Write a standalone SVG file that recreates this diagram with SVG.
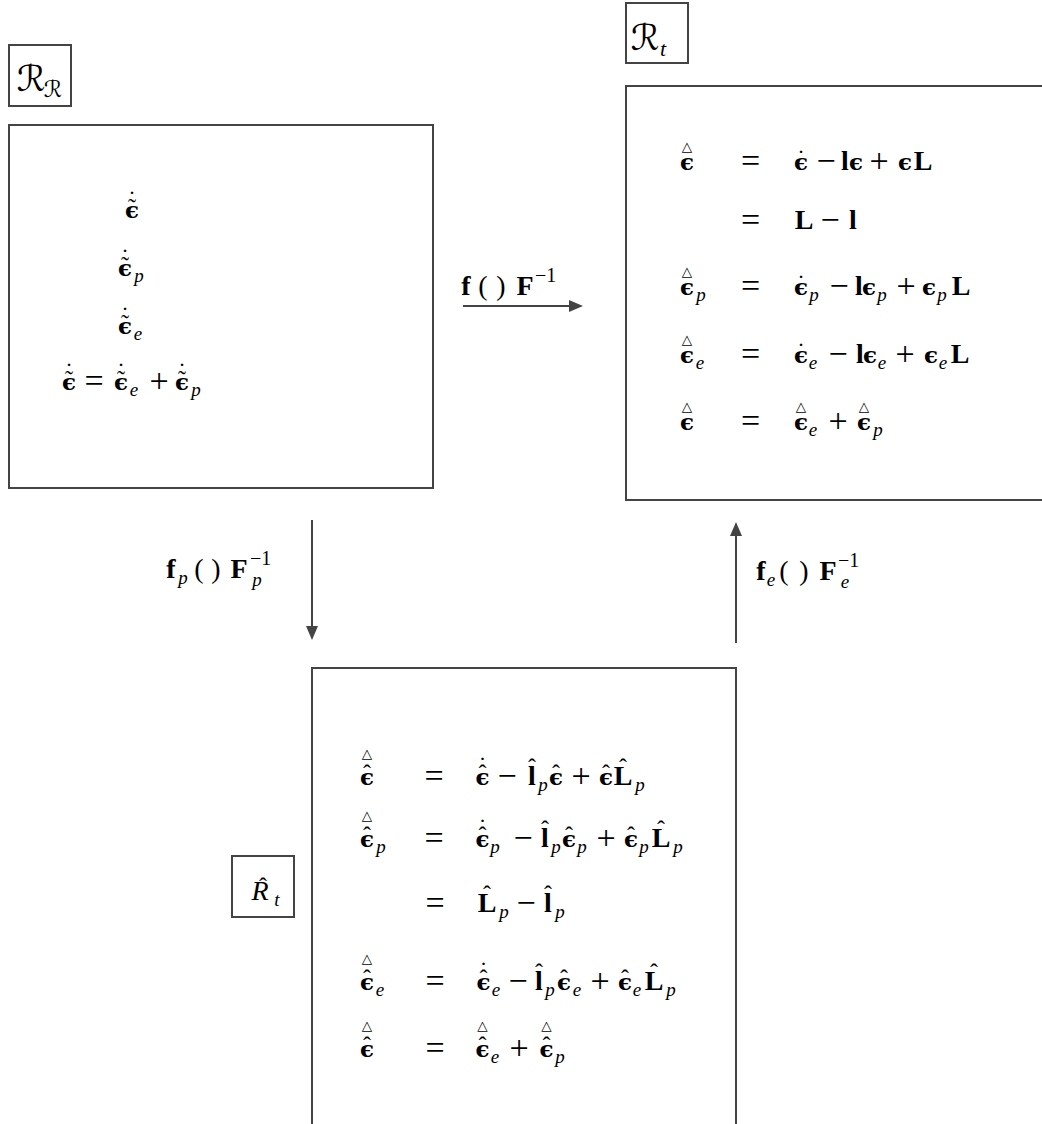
<svg xmlns="http://www.w3.org/2000/svg" width="1042" height="1124" viewBox="0 0 1042 1124">
<defs>
<style>
.box{fill:none;stroke:#444;stroke-width:2}
.con{stroke:#444;stroke-width:2;fill:none}
.t{font-family:"Liberation Serif",serif;font-size:28px;text-anchor:middle;fill:#000}
.b{font-weight:bold}
.op{font-size:34px}
.ep{font-family:"DejaVu Serif",serif;font-weight:bold;font-size:23px}
.sub{font-style:italic;font-size:19px}
.sup{font-size:20px}
.ac{font-size:24px}
.tri{font-family:"DejaVu Sans",sans-serif;font-size:13.5px}
.cal{font-family:"DejaVu Sans","Noto Sans",sans-serif;font-style:italic;font-size:36px;text-anchor:middle;fill:#000}
.cals{font-size:23px}
</style>
<marker id="ah" markerUnits="userSpaceOnUse" markerWidth="14" markerHeight="12" refX="6" refY="6" orient="auto">
<path d="M0,0 L14,6 L0,12 z" fill="#444"/>
</marker>
</defs>
<rect width="1042" height="1124" fill="#fff"/>

<g id="label-RR">
<rect class="box" x="9" y="45" width="62" height="61"/>
<text class="cal"><tspan x="31" y="91">ℛ</tspan><tspan class="cals" x="53" y="97">ℛ</tspan></text>
</g>

<g id="node-left">
<rect class="box" x="9" y="125" width="424" height="363"/>
<text class="t"><tspan class="ep" x="132" y="218">ϵ</tspan><tspan class="ac" x="132" y="215.4">˜</tspan><tspan class="ac" x="132" y="207">˙</tspan></text>
<text class="t"><tspan class="ep" x="125" y="276">ϵ</tspan><tspan class="ac" x="125" y="273.4">˜</tspan><tspan class="ac" x="125" y="265">˙</tspan><tspan class="sub" x="139" y="282">p</tspan></text>
<text class="t"><tspan class="ep" x="125" y="334">ϵ</tspan><tspan class="ac" x="125" y="331.4">˜</tspan><tspan class="ac" x="125" y="323">˙</tspan><tspan class="sub" x="138" y="340">e</tspan></text>
<text class="t"><tspan class="ep" x="69" y="390">ϵ</tspan><tspan class="ac" x="69" y="387.4">˜</tspan><tspan class="ac" x="69" y="379">˙</tspan><tspan class="op" x="94" y="392">=</tspan><tspan class="ep" x="121" y="390">ϵ</tspan><tspan class="ac" x="121" y="387.4">˜</tspan><tspan class="ac" x="121" y="379">˙</tspan><tspan class="sub" x="134" y="396">e</tspan><tspan class="op" x="159" y="392">+</tspan><tspan class="ep" x="182" y="390">ϵ</tspan><tspan class="ac" x="182" y="387.4">˜</tspan><tspan class="ac" x="182" y="379">˙</tspan><tspan class="sub" x="196" y="396">p</tspan></text>
</g>

<g id="label-Rt">
<rect class="box" x="626" y="3" width="62" height="60"/>
<text class="cal"><tspan x="645" y="50">ℛ</tspan><tspan style="font-family:'Liberation Serif',serif;font-size:22px" x="663" y="56">t</tspan></text>
</g>

<g id="node-right">
<rect class="box" x="626" y="86" width="430" height="414"/>
<text class="t"><tspan class="ep" x="687" y="170">ϵ</tspan><tspan class="tri" x="687" y="151">△</tspan><tspan class="op" x="750.5" y="172">=</tspan><tspan class="ep" x="801" y="170">ϵ</tspan><tspan class="ac" x="801" y="166">˙</tspan><tspan class="op" x="826" y="172">−</tspan><tspan class="b" x="845" y="170">l</tspan><tspan class="ep" x="856" y="170">ϵ</tspan><tspan class="op" x="879" y="172">+</tspan><tspan class="ep" x="905" y="170">ϵ</tspan><tspan class="b" x="923" y="170">L</tspan></text>
<text class="t"><tspan class="op" x="750.5" y="231">=</tspan><tspan class="b" x="804" y="229">L</tspan><tspan class="op" x="830" y="231">−</tspan><tspan class="b" x="853" y="229">l</tspan></text>
<text class="t"><tspan class="ep" x="687" y="295">ϵ</tspan><tspan class="tri" x="687" y="276">△</tspan><tspan class="sub" x="701" y="301">p</tspan><tspan class="op" x="750.5" y="297">=</tspan><tspan class="ep" x="801" y="295">ϵ</tspan><tspan class="ac" x="801" y="291">˙</tspan><tspan class="sub" x="814" y="301">p</tspan><tspan class="op" x="839" y="297">−</tspan><tspan class="b" x="859" y="295">l</tspan><tspan class="ep" x="869" y="295">ϵ</tspan><tspan class="sub" x="882" y="301">p</tspan><tspan class="op" x="906" y="297">+</tspan><tspan class="ep" x="929" y="295">ϵ</tspan><tspan class="sub" x="942" y="301">p</tspan><tspan class="b" x="961" y="295">L</tspan></text>
<text class="t"><tspan class="ep" x="687" y="363">ϵ</tspan><tspan class="tri" x="687" y="344">△</tspan><tspan class="sub" x="700" y="369">e</tspan><tspan class="op" x="750.5" y="365">=</tspan><tspan class="ep" x="801" y="363">ϵ</tspan><tspan class="ac" x="801" y="359">˙</tspan><tspan class="sub" x="813" y="369">e</tspan><tspan class="op" x="838" y="365">−</tspan><tspan class="b" x="860" y="363">l</tspan><tspan class="ep" x="870" y="363">ϵ</tspan><tspan class="sub" x="882" y="369">e</tspan><tspan class="op" x="905" y="365">+</tspan><tspan class="ep" x="931" y="363">ϵ</tspan><tspan class="sub" x="943" y="369">e</tspan><tspan class="b" x="960" y="363">L</tspan></text>
<text class="t"><tspan class="ep" x="687" y="430">ϵ</tspan><tspan class="tri" x="687" y="411">△</tspan><tspan class="op" x="750.5" y="432">=</tspan><tspan class="ep" x="801" y="430">ϵ</tspan><tspan class="tri" x="801" y="411">△</tspan><tspan class="sub" x="813" y="436">e</tspan><tspan class="op" x="838" y="432">+</tspan><tspan class="ep" x="864" y="430">ϵ</tspan><tspan class="tri" x="864" y="411">△</tspan><tspan class="sub" x="878" y="436">p</tspan></text>
</g>

<g id="label-Rhat">
<rect class="box" x="232" y="856" width="62" height="61"/>
<text class="t"><tspan class="sub" style="font-size:28px" x="260" y="900">R</tspan><tspan class="ac" x="263" y="894">ˆ</tspan><tspan class="sub" x="277" y="906">t</tspan></text>
</g>

<g id="node-bottom">
<path class="box" d="M312,1130 V668 H736 V1130"/>
<text class="t"><tspan class="ep" x="367" y="785">ϵ</tspan><tspan class="ac" x="367" y="781.4">ˆ</tspan><tspan class="tri" x="367" y="758">△</tspan><tspan class="op" x="434" y="787">=</tspan><tspan class="ep" x="482.5" y="785">ϵ</tspan><tspan class="ac" x="482.5" y="781.4">ˆ</tspan><tspan class="ac" x="482.5" y="773">˙</tspan><tspan class="op" x="507" y="787">−</tspan><tspan class="b" x="532" y="785">l</tspan><tspan class="ac" x="532" y="775.4">ˆ</tspan><tspan class="sub" x="543" y="791">p</tspan><tspan class="ep" x="556" y="785">ϵ</tspan><tspan class="ac" x="556" y="781.4">ˆ</tspan><tspan class="op" x="581" y="787">+</tspan><tspan class="ep" x="606" y="785">ϵ</tspan><tspan class="ac" x="606" y="781.4">ˆ</tspan><tspan class="b" x="623" y="785">L</tspan><tspan class="ac" x="623" y="775.4">ˆ</tspan><tspan class="sub" x="640" y="791">p</tspan></text>
<text class="t"><tspan class="ep" x="367" y="847">ϵ</tspan><tspan class="ac" x="367" y="843.4">ˆ</tspan><tspan class="tri" x="367" y="820">△</tspan><tspan class="sub" x="381" y="853">p</tspan><tspan class="op" x="434" y="849">=</tspan><tspan class="ep" x="482.5" y="847">ϵ</tspan><tspan class="ac" x="482.5" y="843.4">ˆ</tspan><tspan class="ac" x="482.5" y="835">˙</tspan><tspan class="sub" x="495" y="853">p</tspan><tspan class="op" x="523" y="849">−</tspan><tspan class="b" x="545" y="847">l</tspan><tspan class="ac" x="545" y="837.4">ˆ</tspan><tspan class="sub" x="556" y="853">p</tspan><tspan class="ep" x="569" y="847">ϵ</tspan><tspan class="ac" x="569" y="843.4">ˆ</tspan><tspan class="sub" x="582" y="853">p</tspan><tspan class="op" x="606" y="849">+</tspan><tspan class="ep" x="631" y="847">ϵ</tspan><tspan class="ac" x="631" y="843.4">ˆ</tspan><tspan class="sub" x="644" y="853">p</tspan><tspan class="b" x="661" y="847">L</tspan><tspan class="ac" x="661" y="837.4">ˆ</tspan><tspan class="sub" x="678" y="853">p</tspan></text>
<text class="t"><tspan class="op" x="435" y="914">=</tspan><tspan class="b" x="487" y="912">L</tspan><tspan class="ac" x="487" y="902.4">ˆ</tspan><tspan class="sub" x="504" y="918">p</tspan><tspan class="op" x="526" y="914">−</tspan><tspan class="b" x="548" y="912">l</tspan><tspan class="ac" x="548" y="902.4">ˆ</tspan><tspan class="sub" x="560" y="918">p</tspan></text>
<text class="t"><tspan class="ep" x="367" y="990">ϵ</tspan><tspan class="ac" x="367" y="986.4">ˆ</tspan><tspan class="tri" x="367" y="963">△</tspan><tspan class="sub" x="380" y="996">e</tspan><tspan class="op" x="435" y="992">=</tspan><tspan class="ep" x="483.5" y="990">ϵ</tspan><tspan class="ac" x="483.5" y="986.4">ˆ</tspan><tspan class="ac" x="483.5" y="978">˙</tspan><tspan class="sub" x="496" y="996">e</tspan><tspan class="op" x="518" y="992">−</tspan><tspan class="b" x="539" y="990">l</tspan><tspan class="ac" x="539" y="980.4">ˆ</tspan><tspan class="sub" x="550" y="996">p</tspan><tspan class="ep" x="564" y="990">ϵ</tspan><tspan class="ac" x="564" y="986.4">ˆ</tspan><tspan class="sub" x="577" y="996">e</tspan><tspan class="op" x="600" y="992">+</tspan><tspan class="ep" x="625" y="990">ϵ</tspan><tspan class="ac" x="625" y="986.4">ˆ</tspan><tspan class="sub" x="637" y="996">e</tspan><tspan class="b" x="654" y="990">L</tspan><tspan class="ac" x="654" y="980.4">ˆ</tspan><tspan class="sub" x="671" y="996">p</tspan></text>
<text class="t"><tspan class="ep" x="367" y="1057">ϵ</tspan><tspan class="ac" x="367" y="1053.4">ˆ</tspan><tspan class="tri" x="367" y="1030">△</tspan><tspan class="op" x="435" y="1059">=</tspan><tspan class="ep" x="482.5" y="1057">ϵ</tspan><tspan class="ac" x="482.5" y="1053.4">ˆ</tspan><tspan class="tri" x="482.5" y="1030">△</tspan><tspan class="sub" x="495" y="1063">e</tspan><tspan class="op" x="519" y="1059">+</tspan><tspan class="ep" x="546.5" y="1057">ϵ</tspan><tspan class="ac" x="546.5" y="1053.4">ˆ</tspan><tspan class="tri" x="546.5" y="1030">△</tspan><tspan class="sub" x="560" y="1063">p</tspan></text>
</g>

<g id="connectors">
<line class="con" x1="463" y1="306" x2="575" y2="306" marker-end="url(#ah)"/>
<line class="con" x1="312" y1="520" x2="312" y2="632" marker-end="url(#ah)"/>
<line class="con" x1="736" y1="643" x2="736" y2="530" marker-end="url(#ah)"/>
<text class="t" id="label-top"><tspan class="b" x="466" y="295">f</tspan><tspan x="483" y="295">(</tspan><tspan x="501" y="295">)</tspan><tspan class="b" x="525" y="295">F</tspan><tspan class="sup" style="text-anchor:start" x="535" y="282">−1</tspan></text>
<text class="t" id="label-down"><tspan class="b" x="171" y="578">f</tspan><tspan class="sub" x="183" y="584">p</tspan><tspan x="199" y="578">(</tspan><tspan x="216" y="578">)</tspan><tspan class="b" x="239" y="578">F</tspan><tspan class="sub" x="257" y="586">p</tspan><tspan class="sup" style="text-anchor:start" x="250" y="565">−1</tspan></text>
<text class="t" id="label-up"><tspan class="b" x="761" y="580">f</tspan><tspan class="sub" x="771" y="586">e</tspan><tspan x="784" y="580">(</tspan><tspan x="804" y="580">)</tspan><tspan class="b" x="828" y="580">F</tspan><tspan class="sub" x="845" y="588">e</tspan><tspan class="sup" style="text-anchor:start" x="838" y="567">−1</tspan></text>
</g>
</svg>
